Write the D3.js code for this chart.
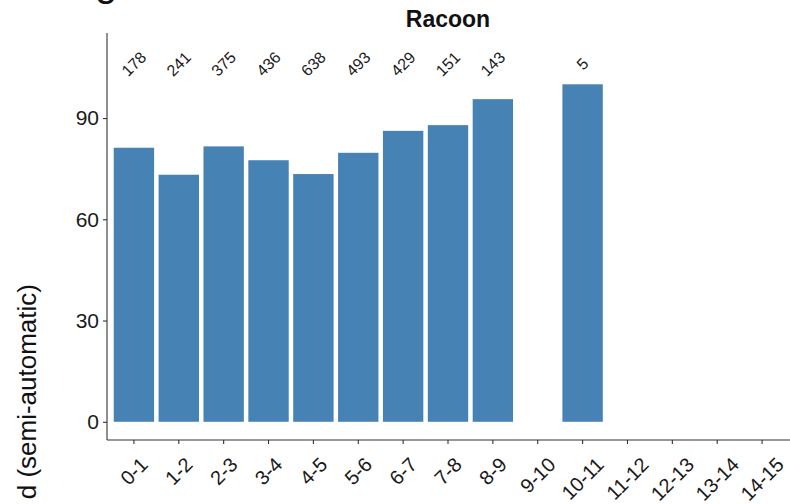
<!DOCTYPE html>
<html>
<head>
<meta charset="utf-8">
<script src="https://cdn.jsdelivr.net/npm/d3@7"></script>
<style>
  html, body { margin: 0; padding: 0; background: #fff; }
  svg { display: block; font-family: "Liberation Sans", Arial, sans-serif; }
</style>
</head>
<body>
<svg id="chart" width="790" height="504"></svg>
<script>
// Age classes (years) on the x axis
const ageClasses = ["0-1", "1-2", "2-3", "3-4", "4-5", "5-6", "6-7", "7-8",
                    "8-9", "9-10", "10-11", "11-12", "12-13", "13-14", "14-15"];
// Percentage per age class (null = no animals in that class)
const percentValues = [81.2, 73.2, 81.6, 77.5, 73.4, 79.7, 86.2, 87.9,
                       95.6, null, 100, null, null, null, null];
// Sample size per age class, printed above the bars
const sampleSizes = [178, 241, 375, 436, 638, 493, 429, 151,
                     143, null, 5, null, null, null, null];
const yTickValues = [0, 30, 60, 90];
const chartTitle = "Racoon";
const yAxisTitle = "d (semi-automatic)";
const labelLevel = 106;

const svg = d3.select("#chart");
const panel = { left: 107, right: 789, top: 33, bottom: 440 };

const x = d3.scaleBand()
  .domain(ageClasses)
  .range([panel.left, panel.right])
  .paddingInner(0.1)
  .paddingOuter(0.15);

const y = d3.scaleLinear()
  .domain([-5.4, 115.2])
  .range([panel.bottom, panel.top]);

const rows = ageClasses.map((c, i) => ({ cls: c, pct: percentValues[i], n: sampleSizes[i] }));

// bars
svg.append("g")
  .selectAll("rect")
  .data(rows.filter(d => d.pct !== null))
  .join("rect")
  .attr("x", d => x(d.cls))
  .attr("width", x.bandwidth())
  .attr("y", d => y(d.pct))
  .attr("height", d => y(0) - y(d.pct))
  .attr("fill", "#4682B4");

// sample size labels, rotated
svg.append("g")
  .selectAll("text")
  .data(rows.filter(d => d.n !== null))
  .join("text")
  .attr("transform", d => `translate(${x(d.cls) + x.bandwidth() / 2},${y(labelLevel)}) rotate(-45)`)
  .attr("text-anchor", "middle")
  .attr("dominant-baseline", "central")
  .attr("font-size", 16)
  .attr("fill", "#1a1a1a")
  .text(d => d.n);

// y axis
const yAxis = svg.append("g")
  .attr("transform", `translate(${panel.left},0)`)
  .call(d3.axisLeft(y).tickValues(yTickValues).tickSize(4).tickSizeOuter(0).tickPadding(4));
yAxis.select(".domain").attr("d", `M0,${panel.top}V${panel.bottom}`);
yAxis.selectAll("text").attr("font-size", 21).attr("fill", "#1a1a1a")
  .attr("font-family", "Liberation Sans, Arial, sans-serif");

// x axis
const xAxis = svg.append("g")
  .attr("transform", `translate(0,${panel.bottom})`)
  .call(d3.axisBottom(x).tickSize(4).tickSizeOuter(0));
xAxis.select(".domain").attr("d", `M${panel.left},0H${panel.right + 1}`);
xAxis.selectAll("text")
  .attr("font-size", 20)
  .attr("fill", "#1a1a1a")
  .attr("font-family", "Liberation Sans, Arial, sans-serif")
  .attr("text-anchor", "middle")
  .attr("dominant-baseline", "central")
  .attr("y", null)
  .attr("dy", null)
  .each(function () {
    const len = this.getComputedTextLength();
    const half = (len + 14) * Math.SQRT1_2 / 2;
    d3.select(this).attr("transform", `translate(0,${16 + half}) rotate(-45)`);
  });

[yAxis, xAxis].forEach(a => {
  a.select(".domain").attr("stroke", "#333").attr("stroke-width", 1.1);
  a.selectAll(".tick line").attr("stroke", "#333").attr("stroke-width", 1.1);
});

// title
svg.append("text")
  .attr("x", (panel.left + panel.right) / 2)
  .attr("y", 27)
  .attr("text-anchor", "middle")
  .attr("font-size", 23)
  .attr("font-weight", "bold")
  .attr("fill", "#111")
  .text(chartTitle);

// y axis title
svg.append("text")
  .attr("transform", "translate(36,284) rotate(-90)")
  .attr("text-anchor", "end")
  .attr("font-size", 26)
  .attr("fill", "#111")
  .text(yAxisTitle);

// panel tag from the figure heading above
svg.append("text")
  .attr("x", 95)
  .attr("y", -4)
  .attr("font-size", 40)
  .attr("fill", "#111")
  .text("g");
</script>
</body>
</html>
